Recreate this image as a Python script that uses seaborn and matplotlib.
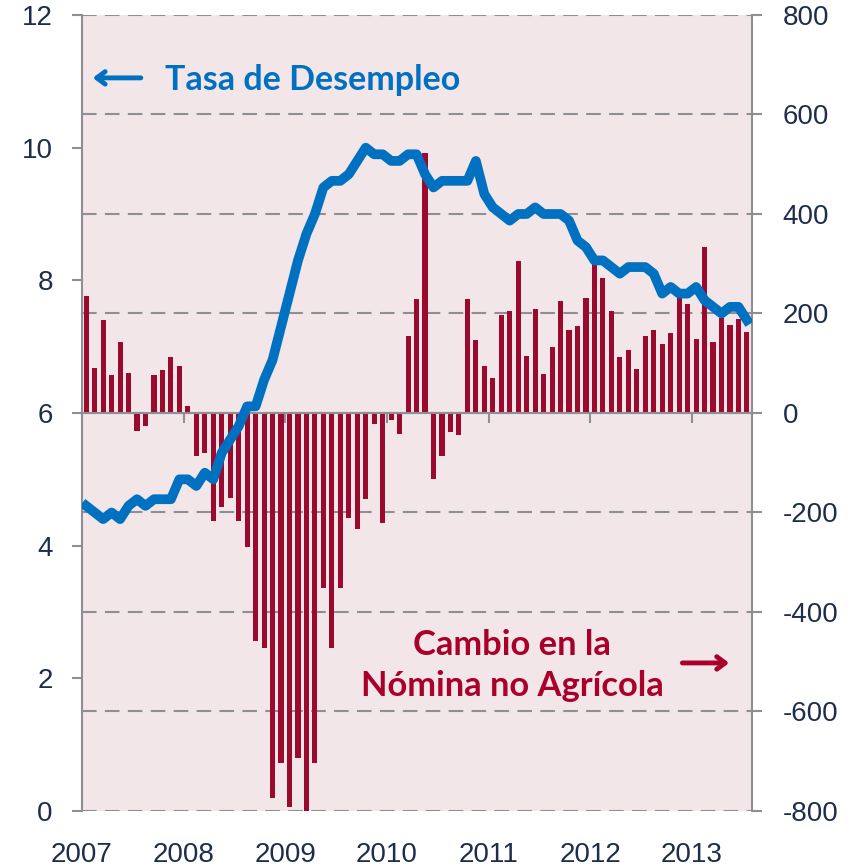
import matplotlib
matplotlib.use("Agg")
import matplotlib.pyplot as plt
import seaborn as sns
import pandas as pd

# Serie mensual: enero 2007 - julio 2013
meses = pd.date_range("2007-01-01", "2013-07-01", freq="MS")

# Tasa de desempleo (%) - eje izquierdo
tasa_desempleo = [
    4.6, 4.5, 4.4, 4.5, 4.4, 4.6, 4.7, 4.6, 4.7, 4.7, 4.7, 5.0,   # 2007
    5.0, 4.9, 5.1, 5.0, 5.4, 5.6, 5.8, 6.1, 6.1, 6.5, 6.8, 7.3,   # 2008
    7.8, 8.3, 8.7, 9.0, 9.4, 9.5, 9.5, 9.6, 9.8, 10.0, 9.9, 9.9,  # 2009
    9.8, 9.8, 9.9, 9.9, 9.6, 9.4, 9.5, 9.5, 9.5, 9.5, 9.8, 9.3,   # 2010
    9.1, 9.0, 8.9, 9.0, 9.0, 9.1, 9.0, 9.0, 9.0, 8.9, 8.6, 8.5,   # 2011
    8.3, 8.3, 8.2, 8.1, 8.2, 8.2, 8.2, 8.1, 7.8, 7.9, 7.8, 7.8,   # 2012
    7.9, 7.7, 7.6, 7.5, 7.6, 7.6, 7.4,                            # 2013
]

# Cambio en la nómina no agrícola (miles) - eje derecho
cambio_nomina = [
    236, 91, 187, 77, 142, 81, -37, -26, 77, 87, 112, 94,              # 2007
    14, -87, -81, -217, -188, -171, -217, -270, -458, -472, -773, -703,  # 2008
    -792, -694, -800, -703, -352, -472, -351, -211, -234, -172, -23, -221,  # 2009
    -15, -42, 155, 230, 522, -132, -87, -38, -44, 229, 146, 95,        # 2010
    70, 197, 206, 305, 115, 210, 79, 133, 226, 167, 174, 231,          # 2011
    300, 272, 205, 113, 126, 88, 154, 166, 138, 160, 233, 220,         # 2012
    148, 334, 142, 191, 176, 188, 162,                                 # 2013
]

ticks_izq = [0, 2, 4, 6, 8, 10, 12]
ticks_der = [-800, -600, -400, -200, 0, 200, 400, 600, 800]
etiquetas_der = ["-800", "-600", "-400", "-200", "0", "200", "400", "600", "800"]

df = pd.DataFrame({
    "pos": range(len(meses)),
    "tasa": tasa_desempleo,
    "nomina": cambio_nomina,
})

FONDO = "#F2E6E8"
ROJO = "#990A2E"
ROJO_TXT = "#A8002A"
AZUL = "#0070C0"
TXT = "#1F2D4D"
GRIS = "#8E8E94"

plt.rcParams["font.family"] = ["Liberation Sans", "DejaVu Sans"]

fig, ax = plt.subplots(figsize=(8.53, 8.67), dpi=100)
fig.subplots_adjust(left=0.0961, right=0.8816, bottom=0.0646, top=0.9827)
ax.set_facecolor(FONDO)

# Barras: cambio en la nómina
sns.barplot(data=df, x="pos", y="nomina", native_scale=True, width=0.6,
            color=ROJO, saturation=1, errorbar=None, ax=ax, zorder=2)

ax2 = ax.twinx()
# Línea: tasa de desempleo
sns.lineplot(data=df, x="pos", y="tasa", ax=ax2, color=AZUL, linewidth=7)

# eje derecho (nómina)
ax.yaxis.tick_right()
ax.set_ylim(-800, 800)
ax.set_yticks(ticks_der)
ax.set_yticklabels(etiquetas_der)
ax.grid(axis="y", linestyle=(0, (7, 4)), color=GRIS, linewidth=1.5, zorder=1)
ax.tick_params(axis="y", direction="out", length=7, width=1.5, color=GRIS,
               labelsize=20, labelcolor=TXT, pad=15)

# eje izquierdo (tasa)
ax2.yaxis.tick_left()
ax2.set_ylim(0, 12)
ax2.set_yticks(ticks_izq)
ax2.tick_params(axis="y", direction="out", length=7, width=1.5, color=GRIS,
                labelsize=20, labelcolor=TXT, pad=14)

# eje x: marcas en la línea de cero, años abajo
inicio_anio = [i - 0.5 for i, m in enumerate(meses) if m.month == 1]
anios = [str(m.year) for m in meses if m.month == 1]
ax.set_xticks(inicio_anio)
ax.set_xticklabels(anios)
ax.set_xlim(-0.5, len(meses) - 0.4)
ax.spines["bottom"].set_position(("data", 0))
ax.tick_params(axis="x", direction="out", length=7, width=1.5, color=GRIS,
               labelbottom=False)
ax2.xaxis.set_visible(True)
ax2.tick_params(axis="x", length=0, labelbottom=True, labelsize=20,
                labelcolor=TXT, pad=22)

for s in ["left", "right", "bottom"]:
    ax.spines[s].set_color(GRIS)
    ax.spines[s].set_linewidth(1.5)
ax.spines["top"].set_visible(False)
for s in ax2.spines.values():
    s.set_visible(False)

for a in (ax, ax2):
    a.set_xlabel("")
    a.set_ylabel("")

# Anotaciones
ax.annotate("", xy=(0.012, 0.921), xytext=(0.092, 0.921), xycoords="axes fraction",
            arrowprops=dict(arrowstyle="->,head_length=0.6,head_width=0.45",
                            color=AZUL, lw=3.5))
ax.text(0.124, 0.918, "Tasa de Desempleo", transform=ax.transAxes, color=AZUL,
        fontsize=24.5, fontweight="bold", family=["Lato", "DejaVu Sans"],
        ha="left", va="center", zorder=5)
ax.text(0.642, 0.183, "Cambio en la\nNómina no Agrícola", transform=ax.transAxes,
        color=ROJO_TXT, fontsize=24.8, fontweight="bold", family=["Lato", "DejaVu Sans"],
        ha="center", va="center", linespacing=1.36, zorder=5)
ax.annotate("", xy=(0.97, 0.186), xytext=(0.892, 0.186), xycoords="axes fraction",
            arrowprops=dict(arrowstyle="->,head_length=0.6,head_width=0.45",
                            color=ROJO_TXT, lw=3.5))

fig.savefig("out.png", dpi=100, facecolor="white")
